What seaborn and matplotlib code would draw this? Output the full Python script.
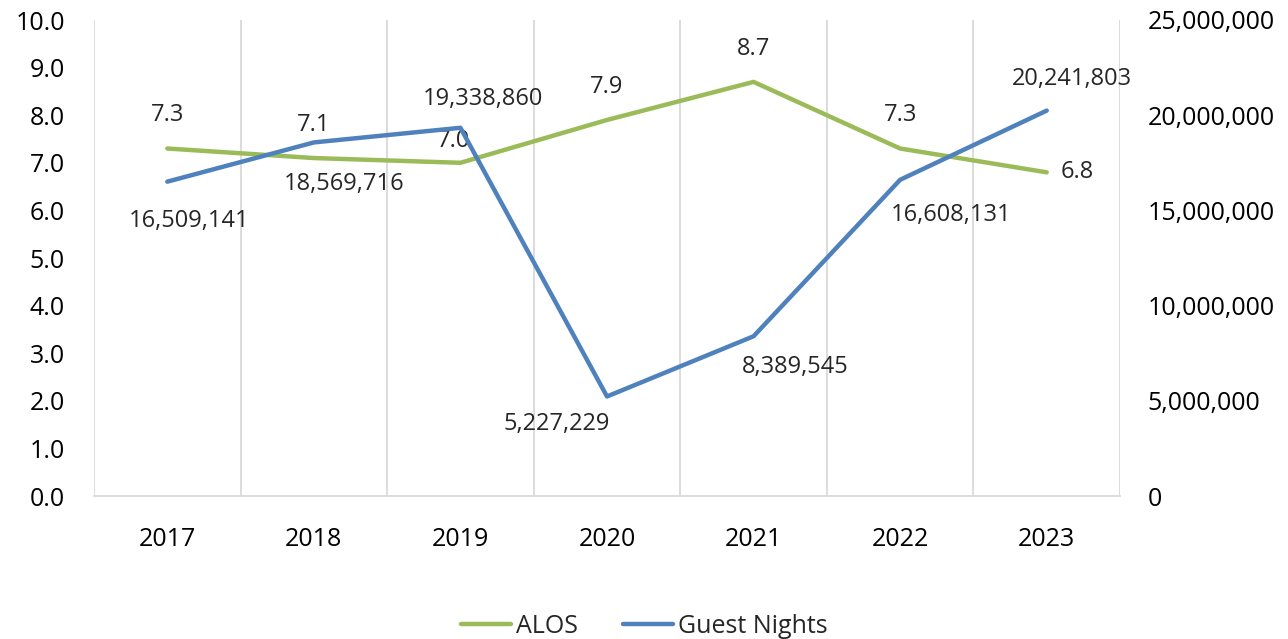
import matplotlib
matplotlib.use('Agg')
import matplotlib.pyplot as plt
import matplotlib.ticker as mticker
from matplotlib.lines import Line2D
import seaborn as sns
import pandas as pd

years = ['2017', '2018', '2019', '2020', '2021', '2022', '2023']
alos = [7.3, 7.1, 7.0, 7.9, 8.7, 7.3, 6.8]
guest_nights = [16509141, 18569716, 19338860, 5227229, 8389545, 16608131, 20241803]

green = '#9BBB59'
blue = '#4F81BD'

sns.set_style('white')
plt.rcParams['font.family'] = ['Open Sans', 'DejaVu Sans']
fs = 19

df = pd.DataFrame({'Year': years, 'ALOS': alos, 'Guest Nights': guest_nights})
df['x'] = range(len(years))

fig = plt.figure(figsize=(12.88, 6.39), dpi=100)
ax = fig.add_axes([94 / 1288, 1 - 496 / 639, (1120 - 94) / 1288, (496 - 20) / 639])
ax2 = ax.twinx()

sns.lineplot(data=df, x='x', y='ALOS', ax=ax, color=green, linewidth=3.2, legend=False)
sns.lineplot(data=df, x='x', y='Guest Nights', ax=ax2, color=blue, linewidth=3.2, legend=False)

ax.set_xlim(-0.5, len(years) - 0.5)
ax.set_ylim(0, 10)
ax2.set_ylim(0, 25000000)
ax.set_yticks([i for i in range(11)])
ax.yaxis.set_major_formatter(mticker.FormatStrFormatter('%.1f'))
ax2.set_yticks([0, 5000000, 10000000, 15000000, 20000000, 25000000])
ax2.yaxis.set_major_formatter(mticker.FuncFormatter(lambda v, p: f'{int(v):,}'))
ax.set_xticks(df['x'])
ax.set_xticklabels(years)

# gridlines between categories
for b in [i - 0.5 for i in range(len(years) + 1)]:
    ax.axvline(b, color='#D9D9D9', linewidth=1.3, zorder=0)

for a in (ax, ax2):
    for s in a.spines.values():
        s.set_visible(False)
    a.set_xlabel('')
    a.set_ylabel('')
    a.tick_params(length=0, labelsize=fs - 1, colors='black')
ax.spines['bottom'].set_visible(True)
ax.spines['bottom'].set_color('#D9D9D9')
ax.spines['bottom'].set_linewidth(1.3)
ax.tick_params(axis='x', pad=22)
ax.tick_params(axis='y', pad=21)
ax2.tick_params(axis='y', pad=20)

# data labels
alos_off = [(0, 24), (0, 24), (-5, 16), (0, 24), (0, 24), (0, 24), (22, 0)]
for i, v in enumerate(alos):
    ax.annotate(f'{v:.1f}', (i, v), xytext=alos_off[i], textcoords='offset points',
                ha='center', va='center', fontsize=fs - 2)

gn_off = [(16, -28), (22, -30), (16, 21), (-36, -20), (30, -22), (37, -25), (18, 23)]
for i, v in enumerate(guest_nights):
    ax2.annotate(f'{v:,}', (i, v), xytext=gn_off[i], textcoords='offset points',
                 ha='center', va='center', fontsize=fs - 2)

handles = [Line2D([], [], color=green, linewidth=3.2), Line2D([], [], color=blue, linewidth=3.2)]
fig.legend(handles, ['ALOS', 'Guest Nights'], loc='center', bbox_to_anchor=(0.5, 0.02),
           ncol=2, frameon=False, fontsize=fs - 1, handlelength=2.0, handletextpad=0.2,
           columnspacing=1.8)

fig.savefig('out.png', dpi=100)
